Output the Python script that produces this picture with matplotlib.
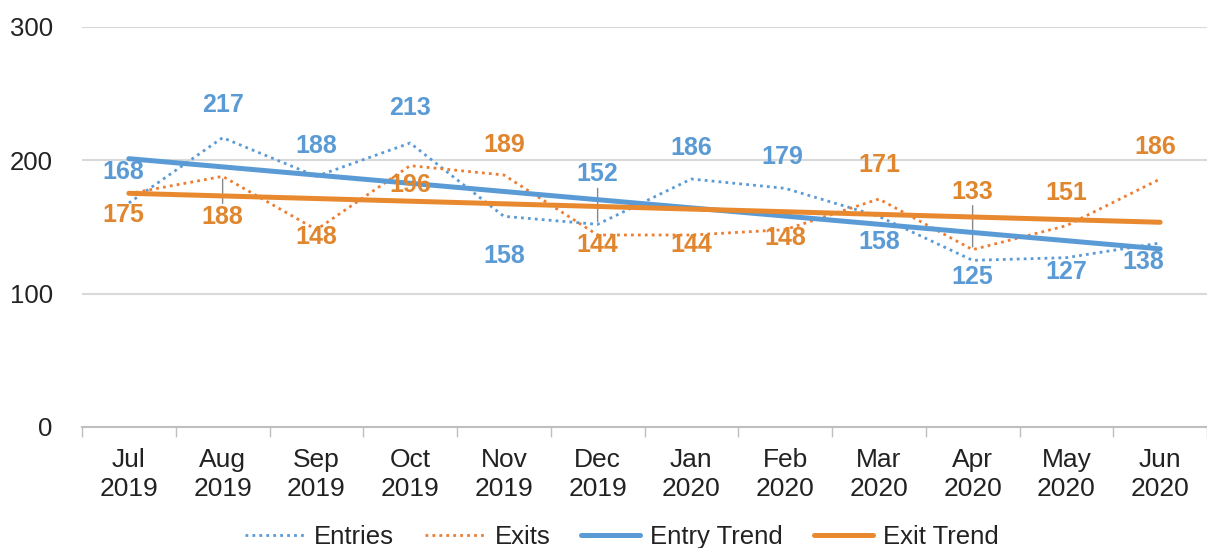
import numpy as np
import matplotlib
matplotlib.use("Agg")
import matplotlib.pyplot as plt

months = ["Jul\n2019", "Aug\n2019", "Sep\n2019", "Oct\n2019", "Nov\n2019", "Dec\n2019",
          "Jan\n2020", "Feb\n2020", "Mar\n2020", "Apr\n2020", "May\n2020", "Jun\n2020"]
entries = [168, 217, 188, 213, 158, 152, 186, 179, 158, 125, 127, 138]
exits = [175, 188, 148, 196, 189, 144, 144, 148, 171, 133, 151, 186]

# label offsets in pixels (dx, dy), picked by eye
entry_off = [(-6, 31), (0, 33), (0, 30), (0, 35), (0, -40), (0, 50),
             (0, 31), (-3, 31), (0, -26), (0, -17), (0, -14), (-17, -19)]
exit_off = [(-6, -21), (0, -41), (0, -7), (0, -19), (0, 30), (0, -10),
            (0, -10), (0, -8), (0, 34), (0, 58), (0, 33), (-5, 32)]
leaders = {"entries": [5], "exits": [1, 9]}

blue = "#5B9BD5"
orange = "#ED7D31"
lab_blue = "#5B9BD5"
lab_orange = "#E0862E"

plt.rcParams["font.family"] = ["Liberation Sans", "DejaVu Sans"]

fig = plt.figure(figsize=(12.07, 5.48), dpi=100)
ax = fig.add_axes([82 / 1207, 121 / 548, 1 - 82 / 1207, 400 / 548])

x = np.arange(len(months))
ax.plot(x, entries, color=blue, lw=2, linestyle=(0, (1, 1.5)), label="Entries", zorder=3)
ax.plot(x, exits, color=orange, lw=2, linestyle=(0, (1, 1.5)), label="Exits", zorder=3)

# linear trend lines like Excel
ke, be = np.polyfit(x, entries, 1)
kx, bx = np.polyfit(x, exits, 1)
ax.plot(x, ke * x + be, color=blue, lw=3.6, solid_capstyle="round", label="Entry Trend", zorder=4)
ax.plot(x, kx * x + bx, color="#E8892F", lw=3.6, solid_capstyle="round", label="Exit Trend", zorder=4)

def put_labels(vals, offs, color, lead):
    for i, (v, (dx, dy)) in enumerate(zip(vals, offs)):
        ax.annotate(str(v), (i, v), xytext=(dx, dy), textcoords="offset pixels",
                    ha="center", va="center", fontsize=18, fontweight="bold",
                    color=color, zorder=5)
        if i in lead:
            sign = 1 if dy > 0 else -1
            ax.annotate("", (i, v), xytext=(0, dy - sign * 14), textcoords="offset pixels",
                        arrowprops=dict(arrowstyle="-", color="#888888", lw=1,
                                        shrinkA=0, shrinkB=2), zorder=2)

put_labels(entries, entry_off, lab_blue, leaders["entries"])
put_labels(exits, exit_off, lab_orange, leaders["exits"])

ax.set_ylim(0, 300)
ax.set_xlim(-0.5, 11 + 30 / 95.2)
ax.set_yticks([0, 100, 200, 300])
ax.set_xticks(x)
ax.set_xticklabels(months, fontsize=19, linespacing=1.28, color="#222222")
ax.set_xticks(np.arange(-0.5, 12, 1), minor=True)
ax.tick_params(axis="x", which="major", length=0, pad=15)
ax.tick_params(axis="x", which="minor", length=7, color="#BFBFBF", width=1)
ax.tick_params(axis="y", length=0, pad=21, labelsize=18.5, labelcolor="#222222")
ax.grid(axis="y", color="#D9D9D9", lw=1.5)
for s in ["top", "right", "left"]:
    ax.spines[s].set_visible(False)
ax.spines["bottom"].set_color("#BFBFBF")
ax.spines["bottom"].set_linewidth(1.5)
ax.set_axisbelow(True)

leg = fig.legend(loc="center", bbox_to_anchor=(622 / 1207, 1 - 537 / 548), ncol=4,
                 frameon=False, fontsize=18.5, handlelength=2.3, handletextpad=0.4,
                 columnspacing=1.2)
for t in leg.get_texts():
    t.set_color("#222222")

fig.savefig("out.png", dpi=100)
